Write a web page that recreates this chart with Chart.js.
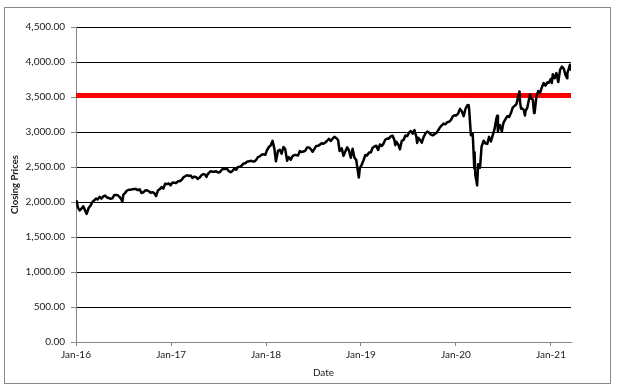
<!DOCTYPE html>
<html>
<head>
<meta charset="utf-8">
<script src="https://cdn.jsdelivr.net/npm/chart.js@4.4.1/dist/chart.umd.min.js"></script>
<style>
    html, body { margin: 0; padding: 0; background: #fff; }
    #wrap { width: 618px; height: 392px; }
</style>
</head>
<body>
<div id="wrap"><canvas id="chart"></canvas></div>
<script>
// weekly-ish closing prices
const dates2016 = ['01-04','01-08','01-15','01-22','01-29','02-05','02-11','02-19','02-26','03-04',
    '03-11','03-18','03-24','04-01','04-08','04-15','04-22','04-29','05-06','05-13',
    '05-20','05-27','06-03','06-10','06-17','06-24','06-27','07-01','07-08','07-15',
    '07-22','07-29','08-05','08-12','08-19','08-26','09-02','09-09','09-16','09-23',
    '09-30','10-07','10-14','10-21','10-28','11-04','11-11','11-18','11-25','12-02',
    '12-09','12-16','12-23','12-30'];
const closes2016 = [2012,1922,1880,1906,1940,1880,1829,1918,1948,2000,
    2022,2050,2035,2073,2048,2081,2092,2065,2057,2047,
    2052,2099,2099,2096,2071,2037,2001,2103,2130,2162,
    2175,2174,2183,2184,2184,2169,2180,2128,2139,2165,
    2168,2153,2133,2141,2126,2085,2164,2182,2213,2192,
    2260,2258,2264,2239];

const dates2017 = ['01-06','01-13','01-20','01-27','02-03','02-10','02-17','02-24','03-03','03-10',
    '03-17','03-24','03-31','04-07','04-13','04-21','04-28','05-05','05-12','05-17',
    '05-19','05-26','06-02','06-09','06-16','06-23','06-30','07-07','07-14','07-21',
    '07-28','08-04','08-11','08-18','08-25','09-01','09-08','09-15','09-22','09-29',
    '10-06','10-13','10-20','10-27','11-03','11-10','11-17','11-24','12-01','12-08',
    '12-15','12-22','12-29'];
const closes2017 = [2277,2275,2271,2295,2297,2316,2351,2367,2383,2373,
    2378,2344,2363,2355,2329,2349,2384,2399,2391,2357,
    2382,2416,2439,2432,2433,2438,2423,2425,2459,2473,
    2472,2476,2441,2426,2443,2477,2461,2500,2502,2519,
    2549,2553,2575,2581,2588,2582,2579,2602,2642,2652,
    2676,2683,2674];

const dates2018 = ['01-05','01-12','01-19','01-26','02-02','02-08','02-16','02-23','03-02','03-09',
    '03-16','03-23','03-29','04-06','04-13','04-20','04-27','05-04','05-11','05-18',
    '05-25','06-01','06-08','06-15','06-22','06-29','07-06','07-13','07-20','07-27',
    '08-03','08-10','08-17','08-24','08-31','09-07','09-14','09-21','09-28','10-05',
    '10-11','10-19','10-26','11-02','11-09','11-16','11-23','11-30','12-07','12-14',
    '12-21','12-24','12-28'];
const closes2018 = [2743,2786,2810,2873,2762,2581,2732,2747,2691,2786,
    2752,2588,2641,2604,2656,2670,2670,2663,2728,2713,
    2721,2735,2779,2780,2755,2718,2760,2801,2802,2819,
    2840,2833,2850,2875,2902,2872,2905,2930,2914,2886,
    2728,2768,2659,2723,2781,2736,2633,2760,2633,2600,
    2417,2351,2486];

const dates2019 = ['01-04','01-11','01-18','01-25','02-01','02-08','02-15','02-22','03-01','03-08',
    '03-15','03-22','03-29','04-05','04-12','04-18','04-26','05-03','05-10','05-13',
    '05-17','05-24','05-31','06-07','06-14','06-21','06-28','07-05','07-12','07-19',
    '07-26','08-02','08-05','08-09','08-16','08-23','08-30','09-06','09-13','09-20',
    '09-27','10-04','10-11','10-18','10-25','11-01','11-08','11-15','11-22','11-29',
    '12-06','12-13','12-20','12-27'];
const closes2019 = [2532,2596,2671,2665,2707,2708,2776,2793,2804,2743,
    2822,2800,2834,2893,2907,2905,2940,2946,2881,2812,
    2860,2826,2752,2873,2887,2950,2942,2990,3014,2977,
    3026,2932,2844,2919,2889,2847,2926,2979,3007,2992,
    2962,2952,2970,2986,3023,3067,3093,3120,3110,3141,
    3146,3169,3221,3240];

const dates2020 = ['01-03','01-10','01-17','01-24','01-31','02-07','02-14','02-19','02-21','02-28',
    '03-06','03-12','03-13','03-16','03-20','03-23','03-27','04-03','04-09','04-17',
    '04-24','05-01','05-08','05-15','05-22','05-29','06-05','06-08','06-11','06-12',
    '06-19','06-26','07-02','07-10','07-17','07-24','07-31','08-07','08-14','08-21',
    '08-28','09-02','09-04','09-08','09-11','09-18','09-23','09-25','10-02','10-09',
    '10-12','10-16','10-23','10-28','10-30','11-06','11-13','11-20','11-27','12-04',
    '12-11','12-18','12-24','12-31'];
const closes2020 = [3235,3265,3330,3295,3226,3328,3380,3386,3338,2954,
    2972,2481,2711,2386,2305,2237,2541,2489,2790,2875,
    2837,2831,2930,2864,2955,3044,3194,3232,3002,3041,
    3098,3009,3130,3185,3225,3216,3271,3351,3373,3397,
    3508,3580,3427,3332,3341,3319,3237,3298,3348,3477,
    3534,3484,3465,3271,3270,3509,3585,3558,3638,3699,
    3663,3709,3703,3756];

const dates2021 = ['01-04','01-08','01-15','01-22','01-29','02-05','02-12','02-19','02-26','03-04',
    '03-05','03-10','03-15','03-18','03-19'];
const closes2021 = [3700,3825,3768,3841,3714,3887,3934,3907,3811,3768,
    3842,3898,3962,3915,3890];

const redLevel = 3520;

const xTickDates = ['2016-01-01','2017-01-01','2018-01-01','2019-01-01','2020-01-01','2021-01-01'];
const xTickLabels = ['Jan-16','Jan-17','Jan-18','Jan-19','Jan-20','Jan-21'];

const yMin = 0;
const yMax = 4500;
const yStep = 500;


const START = Date.UTC(2016, 0, 1);

function dayIndex(str){
    const p = str.split('-').map(Number);
    return (Date.UTC(p[0], p[1] - 1, p[2]) - START) / 86400000;
}

function buildSeries(){
    const years = [
        [2016, dates2016, closes2016],
        [2017, dates2017, closes2017],
        [2018, dates2018, closes2018],
        [2019, dates2019, closes2019],
        [2020, dates2020, closes2020],
        [2021, dates2021, closes2021]
    ];
    let points = [];
    for(let [year, ds, cs] of years){
        ds.forEach((d, i) => points.push({x: dayIndex(year + '-' + d), y: cs[i]}));
    }
    return points;
}

function formatPrice(v){
    return v.toLocaleString('en-US', {minimumFractionDigits: 2, maximumFractionDigits: 2});
}

const series = buildSeries();
const lastDay = series[series.length - 1].x;
const tickDays = xTickDates.map(dayIndex);

const frame = {
    id: 'frame',
    beforeDraw(chart){
        const ctx = chart.ctx;
        ctx.save();
        ctx.fillStyle = '#fff';
        ctx.fillRect(0, 0, chart.width, chart.height);
        ctx.strokeStyle = '#8a8a8a';
        ctx.lineWidth = 1;
        ctx.strokeRect(4.5, 7.5, 606, 376);
        ctx.restore();
    }
};

const AXIS_GRAY = '#868686';
const TEXT = '#1a1a1a';

let myChart = document.getElementById('chart').getContext('2d');
let config = {
    type: 'line',
    data: {
        datasets: [
            {
                label: 'Closing Prices',
                data: series,
                borderColor: '#000',
                borderWidth: 2.5,
                borderJoinStyle: 'round',
                borderCapStyle: 'round',
                pointRadius: 0,
                tension: 0,
                order: 0
            },
            {
                label: 'Level',
                data: [{x: 0, y: redLevel}, {x: lastDay, y: redLevel}],
                borderColor: '#ff0000',
                borderWidth: 5,
                pointRadius: 0,
                order: 1
            }
        ]
    },
    options: {
        responsive: true,
        maintainAspectRatio: false,
        animation: false,
        events: [],
        layout: {
            padding: {top: 27, right: 47, left: 9, bottom: 13}
        },
        plugins: {
            legend: {display: false},
            tooltip: {enabled: false}
        },
        scales: {
            x: {
                type: 'linear',
                min: 0,
                max: lastDay,
                afterBuildTicks: (scale) => {
                    scale.ticks = tickDays.map(v => ({value: v}));
                },
                afterFit: (scale) => { scale.height = 37; },
                ticks: {
                    autoSkip: false,
                    maxRotation: 0,
                    padding: 3,
                    color: TEXT,
                    font: {family: 'Lato', size: 10},
                    callback: (v) => {
                        const i = tickDays.indexOf(v);
                        return i >= 0 ? xTickLabels[i] : '';
                    }
                },
                grid: {
                    drawOnChartArea: false,
                    drawTicks: true,
                    tickLength: 4,
                    tickColor: AXIS_GRAY
                },
                border: {color: AXIS_GRAY, width: 1},
                title: {
                    display: true,
                    text: 'Date',
                    color: TEXT,
                    font: {family: 'Lato', size: 10},
                    padding: 0
                }
            },
            y: {
                min: yMin,
                max: yMax,
                afterFit: (scale) => { scale.width = 67; },
                ticks: {
                    stepSize: yStep,
                    padding: 6,
                    color: TEXT,
                    font: {family: 'Lato', size: 10},
                    callback: (v) => formatPrice(v)
                },
                grid: {
                    color: (c) => c.tick && c.tick.value === 0 ? AXIS_GRAY : '#000',
                    lineWidth: 1,
                    tickLength: 5,
                    tickColor: AXIS_GRAY
                },
                border: {color: AXIS_GRAY, width: 1},
                title: {
                    display: true,
                    text: 'Closing Prices',
                    color: TEXT,
                    font: {family: 'Lato', size: 9.5, weight: 'bold'},
                    padding: 0
                }
            }
        }
    },
    plugins: [frame]
};

new Chart(myChart, config);
</script>
</body>
</html>
